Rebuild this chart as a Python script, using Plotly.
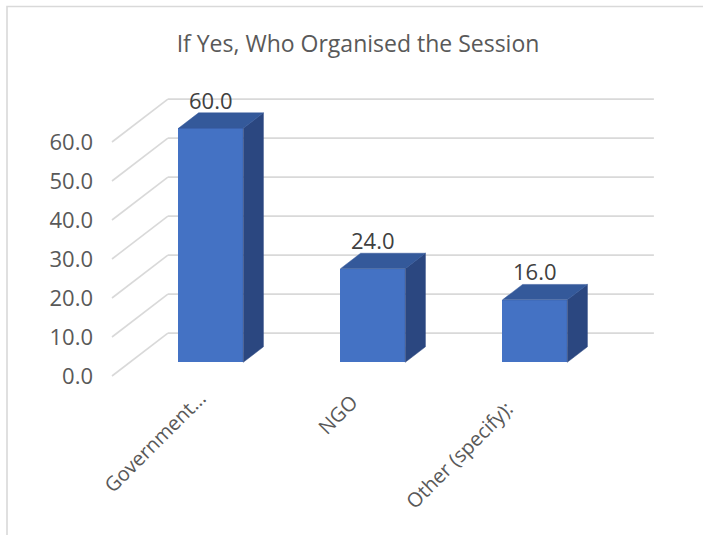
import plotly.graph_objects as go

# ---- data ----
categories = ["Government...", "NGO", "Other (specify):"]
values = [60.0, 24.0, 16.0]
tick_values = [0, 10, 20, 30, 40, 50, 60]
tick_labels = ["0.0", "10.0", "20.0", "30.0", "40.0", "50.0", "60.0"]
title_text = "If Yes, Who Organised the Session"

# ---- pseudo-3D geometry (axis units) ----
DEPTH_X = 0.345     # horizontal shift from floor front to back wall
DEPTH_Y = 11.0      # vertical shift from floor front to back wall
F_FRONT = 0.32      # bar front face position within the depth
F_BACK = 0.68       # bar back face position within the depth
BAR_W = 0.40
X_MIN, X_MAX = -0.5, len(categories) - 0.5

FRONT = "#4472C4"
TOP = "#34599A"
SIDE = "#2B4780"
GRID = "#D9D9D9"
FONT = "'Open Sans', Lato, sans-serif"

fig = go.Figure()

# gridlines: left wall diagonals and back wall horizontals (beneath the bars)
for t in tick_values:
    fig.add_shape(type="line", xref="x", yref="y", layer="below",
                  x0=X_MIN, y0=t, x1=X_MIN + DEPTH_X, y1=t + DEPTH_Y,
                  line=dict(color=GRID, width=1.6))
    fig.add_shape(type="line", xref="x", yref="y", layer="below",
                  x0=X_MIN + DEPTH_X, y0=t + DEPTH_Y,
                  x1=X_MAX + DEPTH_X, y1=t + DEPTH_Y,
                  line=dict(color=GRID, width=1.6))

ddx = (F_BACK - F_FRONT) * DEPTH_X
ddy = (F_BACK - F_FRONT) * DEPTH_Y
for i, v in enumerate(values):
    xc = i + F_FRONT * DEPTH_X
    x0, x1 = xc - BAR_W / 2, xc + BAR_W / 2
    yb = F_FRONT * DEPTH_Y
    yt = v + yb
    # right side face
    fig.add_trace(go.Scatter(
        x=[x1, x1, x1 + ddx, x1 + ddx, x1],
        y=[yb, yt, yt + ddy, yb + ddy, yb],
        fill="toself", fillcolor=SIDE, mode="lines",
        line=dict(color=SIDE, width=0.5),
        hoverinfo="skip", showlegend=False))
    # top face
    fig.add_trace(go.Scatter(
        x=[x0, x1, x1 + ddx, x0 + ddx, x0],
        y=[yt, yt, yt + ddy, yt + ddy, yt],
        fill="toself", fillcolor=TOP, mode="lines",
        line=dict(color=TOP, width=0.5),
        hoverinfo="skip", showlegend=False))
    # value label above the bar
    fig.add_annotation(
        x=xc, y=yt + ddy, xref="x", yref="y", text=f"{v:.1f}",
        showarrow=False, xanchor="center", yanchor="bottom", yshift=-4,
        font=dict(family=FONT, size=22, color="#404040"))

# bar front faces
fig.add_trace(go.Bar(
    x=[i + F_FRONT * DEPTH_X for i in range(len(values))],
    y=values, base=F_FRONT * DEPTH_Y, width=BAR_W,
    marker=dict(color=FRONT, line=dict(width=0)),
    hoverinfo="skip", showlegend=False))

# rotated category labels
label_pos = [(0.130, -1.5), (1.067, -2.6), (2.030, -4.3)]
for (lx, ly), name in zip(label_pos, categories):
    fig.add_annotation(
        x=lx, y=ly, xref="x", yref="y", text=name, textangle=-45,
        showarrow=False, xanchor="right", yanchor="top",
        font=dict(family=FONT, size=20, color="#595959"))

# chart outline
fig.add_shape(type="rect", xref="paper", yref="paper",
              x0=(7 - 100) / 560, x1=(720 - 100) / 560,
              y0=(480 - 560) / 420, y1=(480 - 6.5) / 420,
              line=dict(color=GRID, width=1.6))

fig.update_layout(
    width=703, height=535,
    margin=dict(l=100, r=43, t=60, b=55),
    paper_bgcolor="white", plot_bgcolor="white",
    title=dict(text=title_text, x=358 / 703, xanchor="center",
               y=1 - 44 / 535, yanchor="middle",
               font=dict(family=FONT, size=23, color="#595959")),
    xaxis=dict(range=[-0.5 - 12 / 162, -0.5 - 12 / 162 + 560 / 162],
               showgrid=False, zeroline=False, showline=False,
               showticklabels=False, fixedrange=True),
    yaxis=dict(range=[(376 - 480) / 3.9, (376 - 60) / 3.9],
               tickvals=tick_values, ticktext=tick_labels,
               showgrid=False, zeroline=False, showline=False,
               ticks="", ticklabelstandoff=6,
               tickfont=dict(family=FONT, size=22, color="#595959"),
               fixedrange=True),
    bargap=0,
    showlegend=False,
)

fig.write_html("out.html")
